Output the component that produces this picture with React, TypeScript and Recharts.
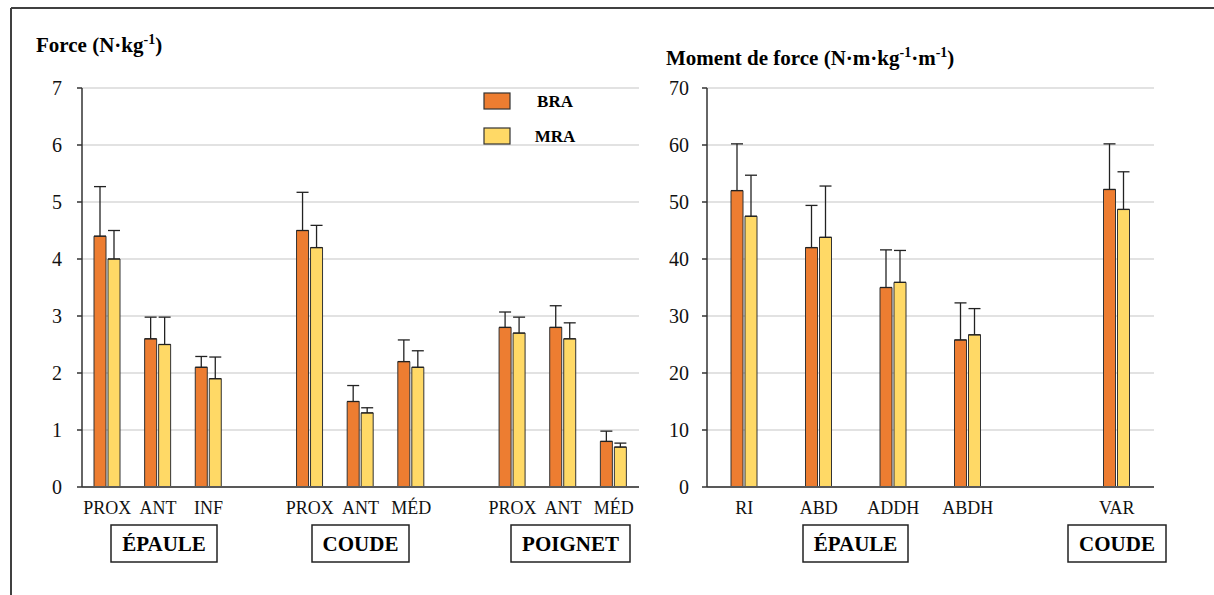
import React from 'react';
import { BarChart, Bar, XAxis, YAxis, CartesianGrid, ErrorBar } from 'recharts';

// Force (N·kg-1) — left panel
const forceCats = ['PROX', 'ANT', 'INF', '', 'PROX', 'ANT', 'MÉD', '', 'PROX', 'ANT', 'MÉD'];
const forceBra = [4.4, 2.6, 2.1, null, 4.5, 1.5, 2.2, null, 2.8, 2.8, 0.8];
const forceMra = [4.0, 2.5, 1.9, null, 4.2, 1.3, 2.1, null, 2.7, 2.6, 0.7];
const forceBraErr = [0.87, 0.38, 0.19, null, 0.67, 0.28, 0.38, null, 0.27, 0.38, 0.18];
const forceMraErr = [0.5, 0.48, 0.38, null, 0.39, 0.09, 0.29, null, 0.28, 0.28, 0.07];
const forceTicks = [0, 1, 2, 3, 4, 5, 6, 7];

// Moment de force (N·m·kg-1·m-1) — right panel
const momentCats = ['RI', 'ABD', 'ADDH', 'ABDH', '', 'VAR'];
const momentBra = [52, 42, 35, 25.8, null, 52.2];
const momentMra = [47.5, 43.8, 35.9, 26.7, null, 48.7];
const momentBraErr = [8.2, 7.4, 6.6, 6.5, null, 8];
const momentMraErr = [7.2, 9, 5.6, 4.6, null, 6.6];
const momentTicks = [0, 10, 20, 30, 40, 50, 60, 70];

const seriesNames = ['BRA', 'MRA'];
const BRA_COLOR = '#ED7D31';
const MRA_COLOR = '#FFD966';
const FONT = '"Liberation Serif", "Times New Roman", serif';

const build = (
  cats: string[],
  bra: (number | null)[],
  mra: (number | null)[],
  braErr: (number | null)[],
  mraErr: (number | null)[]
) =>
  cats.map((name, i) => ({
    id: i,
    name,
    bra: bra[i],
    mra: mra[i],
    braErr: braErr[i] == null ? null : [0, braErr[i]],
    mraErr: mraErr[i] == null ? null : [0, mraErr[i]],
  }));

const forceData = build(forceCats, forceBra, forceMra, forceBraErr, forceMraErr);
const momentData = build(momentCats, momentBra, momentMra, momentBraErr, momentMraErr);

type PanelProps = {
  data: ReturnType<typeof build>;
  cats: string[];
  ticks: number[];
  width: number;
  yWidth: number;
  right: number;
  tickMargin: number;
};

function Panel({ data, cats, ticks, width, yWidth, right, tickMargin }: PanelProps) {
  return (
    <BarChart
      width={width}
      height={595}
      data={data}
      margin={{ top: 88, right, left: 0, bottom: 68 }}
      barSize={12}
      barGap={2}
    >
      <CartesianGrid vertical={false} stroke="#d9d9d9" strokeWidth={1.5} />
      <XAxis
        dataKey="id"
        type="category"
        interval={0}
        height={40}
        tickFormatter={(v: number) => cats[v]}
        tickLine={false}
        tickSize={0}
        tickMargin={14}
        axisLine={{ stroke: '#595959', strokeWidth: 2 }}
        tick={{ fill: '#111', fontSize: 18, fontFamily: FONT }}
      />
      <YAxis
        width={yWidth}
        domain={[ticks[0], ticks[ticks.length - 1]]}
        ticks={ticks}
        interval={0}
        tickSize={5}
        tickMargin={tickMargin}
        axisLine={{ stroke: '#333', strokeWidth: 1.5 }}
        tickLine={{ stroke: '#333', strokeWidth: 1.5 }}
        tick={{ fill: '#111', fontSize: 20, fontFamily: FONT }}
      />
      <Bar dataKey="bra" fill={BRA_COLOR} stroke="#333" strokeWidth={1} isAnimationActive={false}>
        <ErrorBar dataKey="braErr" direction="y" width={6} stroke="#222" strokeWidth={1.3} />
      </Bar>
      <Bar dataKey="mra" fill={MRA_COLOR} stroke="#333" strokeWidth={1} isAnimationActive={false}>
        <ErrorBar dataKey="mraErr" direction="y" width={6} stroke="#222" strokeWidth={1.3} />
      </Bar>
    </BarChart>
  );
}

const boxes = [
  { label: 'ÉPAULE', x: 111, w: 106 },
  { label: 'COUDE', x: 312, w: 97 },
  { label: 'POIGNET', x: 511, w: 119 },
  { label: 'ÉPAULE', x: 803, w: 105 },
  { label: 'COUDE', x: 1068, w: 98 },
];

export default function App() {
  return (
    <div style={{ position: 'absolute', left: 0, top: 0, width: 1214, height: 595, background: '#fff' }}>
      <div style={{ position: 'absolute', left: 0, top: 0 }}>
        <Panel data={forceData} cats={forceCats} ticks={forceTicks} width={660} yWidth={82} right={21} tickMargin={15} />
      </div>
      <div style={{ position: 'absolute', left: 640, top: 0 }}>
        <Panel data={momentData} cats={momentCats} ticks={momentTicks} width={574} yWidth={67} right={60} tickMargin={13} />
      </div>
      <svg
        width={1214}
        height={595}
        style={{ position: 'absolute', left: 0, top: 0, pointerEvents: 'none' }}
        fontFamily={FONT}
      >
        <line x1={11} y1={8} x2={1214} y2={8} stroke="#404040" strokeWidth={2} />
        <line x1={11} y1={8} x2={11} y2={595} stroke="#404040" strokeWidth={2} />

        <text x={36} y={52} fontSize={21} fontWeight="bold" fill="#000">
          Force (N·kg
          <tspan fontSize={14} dy={-8}>-1</tspan>
          <tspan dy={8}>)</tspan>
        </text>
        <text x={666} y={65} fontSize={21} fontWeight="bold" fill="#000">
          Moment de force (N·m·kg
          <tspan fontSize={14} dy={-8}>-1</tspan>
          <tspan dy={8}>·m</tspan>
          <tspan fontSize={14} dy={-8}>-1</tspan>
          <tspan dy={8}>)</tspan>
        </text>

        {seriesNames.map((n, i) => (
          <g key={n}>
            <rect
              x={484}
              y={93 + i * 35}
              width={26}
              height={16}
              fill={i === 0 ? BRA_COLOR : MRA_COLOR}
              stroke="#333"
              strokeWidth={1.2}
            />
            <text x={555} y={107 + i * 35} textAnchor="middle" fontSize={17} fontWeight="bold" fill="#000">
              {n}
            </text>
          </g>
        ))}

        {boxes.map((b, i) => (
          <g key={i}>
            <rect x={b.x} y={525} width={b.w} height={37} fill="#fff" stroke="#222" strokeWidth={1.5} />
            <text x={b.x + b.w / 2} y={551} textAnchor="middle" fontSize={21} fontWeight="bold" fill="#000">
              {b.label}
            </text>
          </g>
        ))}
      </svg>
    </div>
  );
}
